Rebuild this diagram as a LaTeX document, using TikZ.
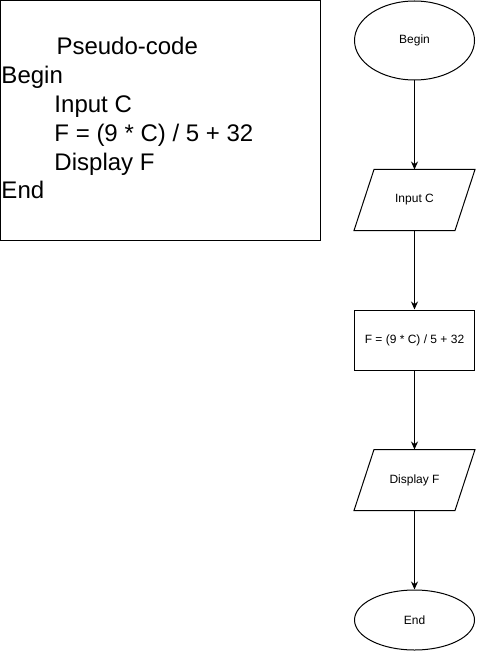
\documentclass[tikz,border=0pt]{standalone}
\usepackage{fontspec}
\setmainfont{Liberation Sans}
\usepackage{tikz}
\usetikzlibrary{shapes.geometric}
\usetikzlibrary{arrows.meta}

\tikzset{
	term/.style={draw, ellipse, minimum width=120pt, minimum height=60pt, inner sep=0pt, font=\fontsize{12}{14.4}\selectfont},
	io/.style={rectangle, minimum width=100pt, minimum height=60pt, inner sep=0pt, font=\fontsize{12}{14.4}\selectfont},
	proc/.style={draw, rectangle, minimum width=120pt, minimum height=60pt, inner sep=0pt, font=\fontsize{12}{14.4}\selectfont},
}

\begin{document}
\begin{tikzpicture}[x=1pt, y=-1pt, line width=1pt]
\useasboundingbox (0,0) rectangle (476,652);
\node[draw, minimum width=320pt, minimum height=240pt, inner sep=0pt] (box) at (160.5,120.5) {};
% base anchor of the code text sits on its last line
\node[anchor=base west, align=left, inner sep=0pt, font=\fontsize{24}{28.8}\selectfont] (code) at (1,199)
{\hspace*{55pt}Pseudo-code\\Begin\\\hspace*{53pt}Input C\\\hspace*{53pt}F = (9 * C) / 5 + 32\\\hspace*{53pt}Display F\\End};
\node[term, minimum height=79pt] (begin) at (414.5,40.5) {Begin};
\node[io] (input) at (414.5,200) {Input C};
\node[proc] (calc) at (414.5,340) {F = (9 * C) / 5 + 32};
\node[io] (display) at (414.5,480) {Display F};
\node[term] (stop) at (414.5,620) {End};
% slanted outline of the in/out boxes
\foreach \n in {input,display}
	\draw ([xshift=10pt]\n.north west) -- ([xshift=10pt]\n.north east)
		-- ([xshift=-10pt]\n.south east) -- ([xshift=-10pt]\n.south west) -- cycle;
\path[-{Stealth[length=8pt,width=7pt]}]
(begin) edge (input)
(input) edge (calc)
(calc) edge (display)
(display) edge (stop)
;
\end{tikzpicture}
\end{document}
